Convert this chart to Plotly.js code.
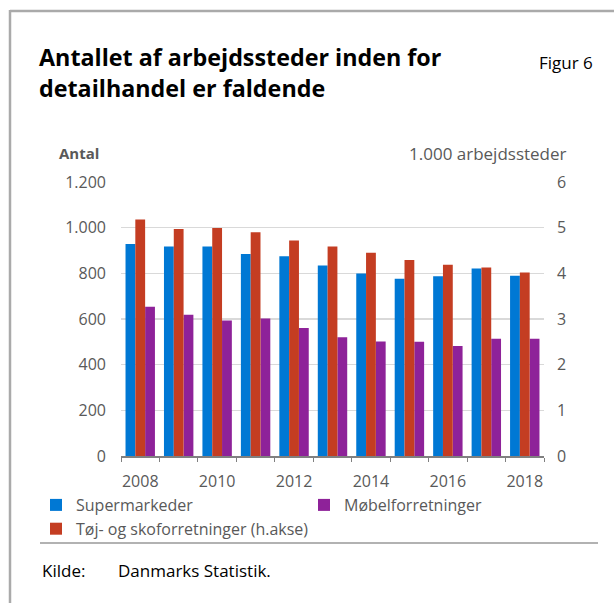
<!DOCTYPE html>
<html><head><meta charset="utf-8">
<script src="https://cdn.plot.ly/plotly-3.0.1.min.js"></script>
<style>html,body{margin:0;padding:0;background:#fff}</style>
</head><body><div id="chart" style="width:614px;height:603px"></div>
<script>
const years = ['2008','2009','2010','2011','2012','2013','2014','2015','2016','2017','2018'];
const yearTickLabels = ['2008','','2010','','2012','','2014','','2016','','2018'];
const supermarkeder = [929, 917, 917, 885, 875, 834, 799, 776, 787, 821, 789];
const tojSko = [5.18, 4.97, 4.99, 4.90, 4.72, 4.59, 4.45, 4.29, 4.19, 4.13, 4.02];
const mobel = [654, 619, 593, 602, 561, 520, 502, 500, 482, 513, 513];
const leftTicks = [0, 200, 400, 600, 800, 1000, 1200];
const rightTicks = [0, 1, 2, 3, 4, 5, 6];

const FONT = 'Open Sans, Noto Sans, sans-serif';
const GRAY = '#595959';
const L = 121, R = 544, T = 182, B = 456;
const px = x => (x - L) / (R - L);
const py = y => (B - y) / (B - T);
const W = 0.255;

const traces = [
  {type:'bar', name:'Supermarkeder', x:years, y:supermarkeder, yaxis:'y',
   width:W, offset:-0.3825, marker:{color:'#0078D4'}, legendrank:1},
  {type:'bar', name:'Tøj- og skoforretninger (h.akse)', x:years, y:tojSko, yaxis:'y2',
   width:W, offset:-0.1275, marker:{color:'#C43D22'}, legendrank:3},
  {type:'bar', name:'Møbelforretninger', x:years, y:mobel, yaxis:'y',
   width:W, offset:0.1275, marker:{color:'#8E2299'}, legendrank:2}
];

const layout = {
  width:614, height:603,
  margin:{l:L, r:614-R, t:T, b:603-B, pad:0},
  paper_bgcolor:'#fff', plot_bgcolor:'#fff',
  separators:',.',
  font:{family:FONT, size:16, color:GRAY},
  showlegend:true,
  barmode:'overlay',
  xaxis:{type:'category', tickmode:'array', tickvals:years, ticktext:yearTickLabels,
    tickson:'boundaries', ticks:'outside', ticklen:4, tickcolor:'#808080', tickangle:0,
    ticklabelstandoff:10,
    showline:true, linecolor:'#808080', linewidth:1.5, showgrid:false,
    tickfont:{size:16, color:GRAY}, fixedrange:true},
  yaxis:{range:[0,1200], tickvals:leftTicks, tickformat:',d', showgrid:true,
    gridcolor:'#d9d9d9', gridwidth:1.5, zeroline:false, showline:false, ticks:'',
    ticklabelstandoff:14, tickfont:{size:16, color:GRAY}, fixedrange:true},
  yaxis2:{range:[0,6], tickvals:rightTicks, overlaying:'y', side:'right', showgrid:false,
    zeroline:false, showline:false, ticks:'', ticklabelstandoff:12,
    tickfont:{size:16, color:GRAY}, fixedrange:true},
  legend:{orientation:'h', x:px(36), xanchor:'left', y:py(488), yanchor:'top',
    font:{size:16, color:GRAY}, entrywidth:223, itemwidth:30, traceorder:'normal',
    bgcolor:'rgba(0,0,0,0)'},
  annotations:[
    {xref:'paper', yref:'paper', x:px(37), y:py(57), xanchor:'left', yanchor:'middle',
     text:'<b>Antallet af arbejdssteder inden for</b>', showarrow:false,
     font:{size:23.3, color:'#000', family:FONT}},
    {xref:'paper', yref:'paper', x:px(37), y:py(88), xanchor:'left', yanchor:'middle',
     text:'<b>detailhandel er faldende</b>', showarrow:false,
     font:{size:23.3, color:'#000', family:FONT}},
    {xref:'paper', yref:'paper', x:px(595), y:py(62), xanchor:'right', yanchor:'middle',
     text:'Figur 6', showarrow:false, font:{size:17, color:'#000', family:FONT}},
    {xref:'paper', yref:'paper', x:px(57), y:py(153), xanchor:'left', yanchor:'middle',
     text:'<b>Antal</b>', showarrow:false, font:{size:15, color:GRAY, family:FONT}},
    {xref:'paper', yref:'paper', x:px(569), y:py(153), xanchor:'right', yanchor:'middle',
     text:'1.000 arbejdssteder', showarrow:false, font:{size:17, color:GRAY, family:FONT}},
    {xref:'paper', yref:'paper', x:px(40), y:py(570), xanchor:'left', yanchor:'middle',
     text:'Kilde:', showarrow:false, font:{size:17, color:'#000', family:FONT}},
    {xref:'paper', yref:'paper', x:px(116), y:py(570), xanchor:'left', yanchor:'middle',
     text:'Danmarks Statistik.', showarrow:false, font:{size:17, color:'#000', family:FONT}}
  ],
  shapes:[
    {type:'line', xref:'paper', yref:'paper', x0:px(10), x1:px(620), y0:py(11), y1:py(11),
     line:{color:'#aaaaaa', width:2.5}},
    {type:'line', xref:'paper', yref:'paper', x0:px(10), x1:px(10), y0:py(10), y1:py(610),
     line:{color:'#aaaaaa', width:2.5}},
    {type:'line', xref:'paper', yref:'paper', x0:px(40), x1:px(598), y0:py(543), y1:py(543),
     line:{color:'#999999', width:1.5}}
  ]
};

Plotly.newPlot('chart', traces, layout, {displayModeBar:false, staticPlot:true});
</script></body></html>
